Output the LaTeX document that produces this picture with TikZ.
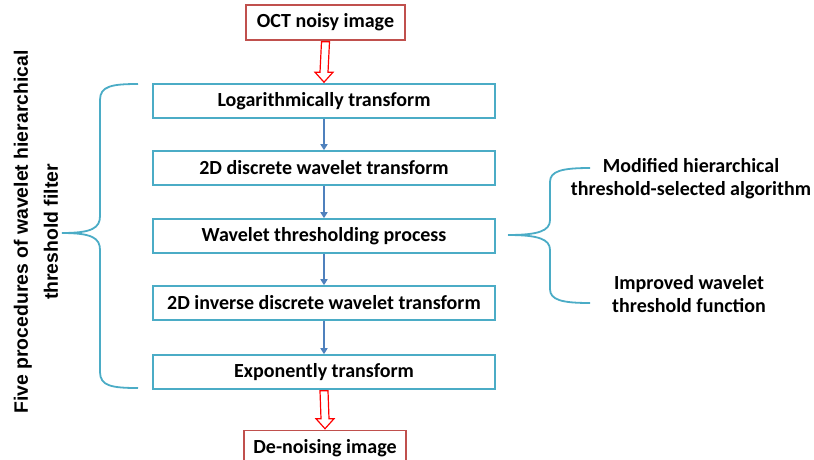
\documentclass[tikz,border=0pt]{standalone}
\usepackage{fontspec}
\setmainfont{Carlito}
\newfontfamily\arialfont{Liberation Sans}
\usetikzlibrary{arrows.meta,calc}
\definecolor{boxblue}{RGB}{75,172,198}
\definecolor{boxred}{RGB}{192,80,77}
\definecolor{arrblue}{RGB}{79,129,189}
\begin{document}
\begin{tikzpicture}[x=1pt,y=-1pt,
  stepbox/.style={draw=boxblue, line width=1.6pt, minimum width=342pt, minimum height=34pt, inner sep=0pt, font=\fontsize{20}{24}\selectfont\bfseries},
  endbox/.style={draw=boxred, line width=1.6pt, minimum height=35pt, inner sep=0pt, font=\fontsize{20}{24}\selectfont\bfseries},
  flow/.style={draw=arrblue, line width=1.5pt, -{Triangle[length=6pt,width=7pt]}},
  hollow/.style={draw=red, line width=1.2pt, fill=white, line join=miter},
  brace/.style={draw=boxblue, line width=1.8pt},
  sidetext/.style={font=\fontsize{20}{23}\selectfont\bfseries, align=center, inner sep=0pt}]
\useasboundingbox (0,0) rectangle (814,459);
\clip (0,0) rectangle (814,459);
\node[endbox, minimum width=159pt] (oct) at (325.5,22.5) {OCT noisy image};
\node[stepbox] (s1) at (324,101) {Logarithmically transform};
\node[stepbox] (s2) at (324,168) {2D discrete wavelet transform};
\node[stepbox] (s3) at (324,236) {Wavelet thresholding process};
\node[stepbox] (s4) at (324,303) {2D inverse discrete wavelet transform};
\node[stepbox] (s5) at (324,372) {Exponently transform};
\node[endbox, minimum width=162pt] (den) at (325,448) {De-noising image};
\draw[flow] (s1) -- (s2);
\draw[flow] (s2) -- (s3);
\draw[flow] (s3) -- (s4);
\draw[flow] (s4) -- (s5);
% hollow arrows
\draw[hollow] ($(oct.south)+(-4,1)$) -- ($(s1.north)+(-4,-11)$) -- ($(s1.north)+(-9,-11)$) -- ($(s1.north)+(0,-1)$) -- ($(s1.north)+(9,-11)$) -- ($(s1.north)+(4,-11)$) -- ($(oct.south)+(4,1)$) -- cycle;
\draw[hollow] ($(s5.south)+(-4,1)$) -- ($(den.north)+(-4,-11)$) -- ($(den.north)+(-9,-11)$) -- ($(den.north)+(0,-1)$) -- ($(den.north)+(9,-11)$) -- ($(den.north)+(4,-11)$) -- ($(s5.south)+(4,1)$) -- cycle;
% left brace and label
\node[sidetext, rotate=90, font=\arialfont\fontsize{19.4}{30}\selectfont\bfseries] (lefttxt) at (36,232) {Five procedures of wavelet hierarchical\\threshold filter};
\coordinate (ltip) at (62,233);
\draw[brace] (138,84) .. controls (112,84) and (100,86) .. (100,100) -- (100,216) .. controls (100,228) and (92,233) .. (ltip) .. controls (92,233) and (100,238) .. (100,250) -- (100,372) .. controls (100,386) and (112,388) .. (138,388);
% right brace and labels
\node[sidetext] (mod) at (691,179) {Modified hierarchical\\threshold-selected algorithm};
\node[sidetext] (imp) at (689,294) {Improved wavelet\\threshold function};
\coordinate (rtip) at (508,235);
\draw[brace] (rtip) .. controls (538,235) and (550,231) .. (550,220) -- (550,182) .. controls (550,171) and (562,168) .. (590,168);
\draw[brace] (rtip) .. controls (538,235) and (550,239) .. (550,250) -- (550,289) .. controls (550,300) and (562,303) .. (590,303);
\end{tikzpicture}
\end{document}
